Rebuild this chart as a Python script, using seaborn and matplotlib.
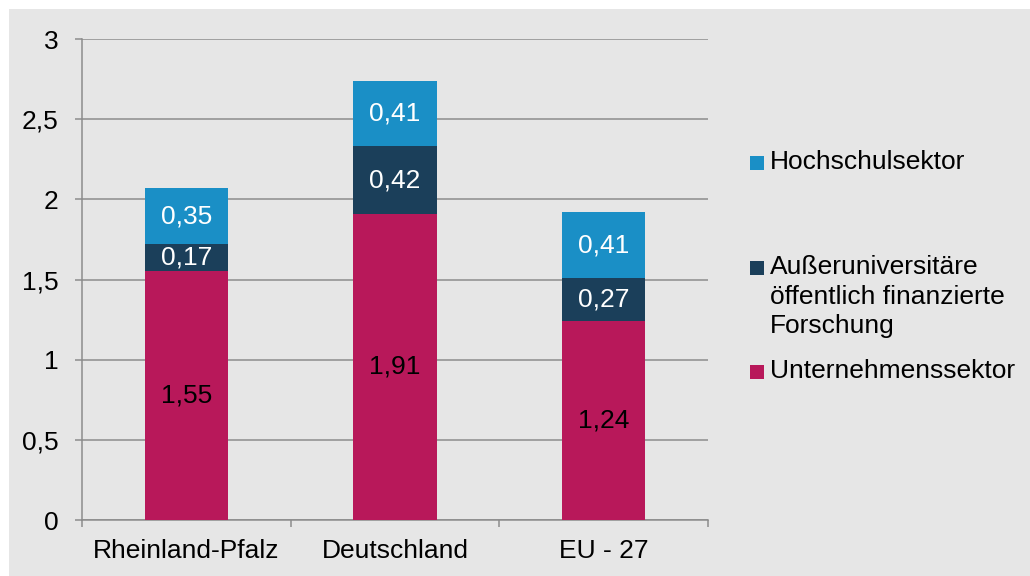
"""FuE-Ausgaben nach Sektoren: gestapeltes Säulendiagramm."""

import matplotlib.pyplot as plt
import pandas as pd
import seaborn as sns
from matplotlib.patches import Rectangle

# Daten
regionen = ["Rheinland-Pfalz", "Deutschland", "EU - 27"]
unternehmen = [1.55, 1.91, 1.24]
ausseruni = [0.17, 0.42, 0.27]
hochschule = [0.35, 0.41, 0.41]
y_ticks = [0, 0.5, 1, 1.5, 2, 2.5, 3]
y_tick_labels = ["0", "0,5", "1", "1,5", "2", "2,5", "3"]
legend_labels = [
    "Hochschulsektor",
    "Außeruniversitäre\nöffentlich finanzierte\nForschung",
    "Unternehmenssektor",
]

FARBEN = {"hoch": "#1a8fc6", "aus": "#1b3f5a", "unt": "#b8185a"}
GRAU = "#e6e6e6"
LINIE = "#8c8c8c"

sns.set_theme(style="white")
plt.rcParams["font.family"] = ["Liberation Sans", "DejaVu Sans"]
FS = 19

df = pd.DataFrame(
    {"region": regionen, "unt": unternehmen, "aus": ausseruni, "hoch": hochschule}
)
df["bottom_aus"] = df["unt"]
df["bottom_hoch"] = df["unt"] + df["aus"]

fig = plt.figure(figsize=(10.3, 5.76), dpi=100, facecolor="white")
# grauer Hintergrund mit weißem Rand oben/links
fig.patches.append(
    Rectangle((9 / 1030, 0), 1, 1 - 9 / 576, transform=fig.transFigure,
              facecolor=GRAU, edgecolor="none", zorder=-10)
)
ax = fig.add_axes([82 / 1030, 1 - 520 / 576, (708 - 82) / 1030, (520 - 39) / 576])
ax.set_facecolor(GRAU)

# gestapelte Säulen
schichten = [
    ("unt", None, "black"),
    ("aus", "bottom_aus", "white"),
    ("hoch", "bottom_hoch", "white"),
]
for key, bottom_col, txt_color in schichten:
    bottom = df[bottom_col] if bottom_col else 0
    sns.barplot(data=df, x="region", y=key, bottom=bottom, color=FARBEN[key],
                width=0.4, saturation=1, ax=ax, zorder=3,
                edgecolor="none", linewidth=0)
    cont = ax.containers[-1]
    ax.bar_label(cont, labels=[f"{v:.2f}".replace(".", ",") for v in df[key]],
                 label_type="center", color=txt_color, fontsize=FS)

# Achsen
ax.set_ylim(0, 3)
ax.set_xlim(-0.5, 2.5)
ax.set_yticks(y_ticks)
ax.set_yticklabels(y_tick_labels, fontsize=FS)
ax.set_xticks(range(len(regionen)))
ax.set_xticklabels(regionen, fontsize=FS)
ax.set_xticks([-0.5, 0.5, 1.5, 2.5], minor=True)
ax.set_xlabel("")
ax.set_ylabel("")

ax.grid(True, axis="y", color=LINIE, linewidth=1.1, zorder=1)
ax.set_axisbelow(True)
ax.tick_params(axis="y", which="major", length=5, width=1.1, color=LINIE,
               pad=12, left=True, labelcolor="black")
ax.tick_params(axis="x", which="major", length=0, pad=14, labelcolor="black")
ax.tick_params(axis="x", which="minor", length=5, width=1.1, color=LINIE,
               bottom=True, direction="out")

for side in ["top", "right"]:
    ax.spines[side].set_visible(False)
for side in ["left", "bottom"]:
    ax.spines[side].set_color(LINIE)
    ax.spines[side].set_linewidth(1.1)

# Legende (Excel-Stil: Marker an erster Zeile, gleichmäßige Abstände)
legend_colors = [FARBEN["hoch"], FARBEN["aus"], FARBEN["unt"]]
legend_y = [163, 268, 372]
for label, col, ypx in zip(legend_labels, legend_colors, legend_y):
    yf = 1 - ypx / 576
    fig.patches.append(
        Rectangle((750 / 1030, yf - 7 / 576), 14 / 1030, 14 / 576,
                  transform=fig.transFigure, facecolor=col, edgecolor="none")
    )
    fig.text(770 / 1030, 1 - (ypx - 13) / 576, label, fontsize=FS,
             ha="left", va="top", linespacing=1.3, color="black")

fig.savefig("out.png", dpi=100, facecolor=fig.get_facecolor())
